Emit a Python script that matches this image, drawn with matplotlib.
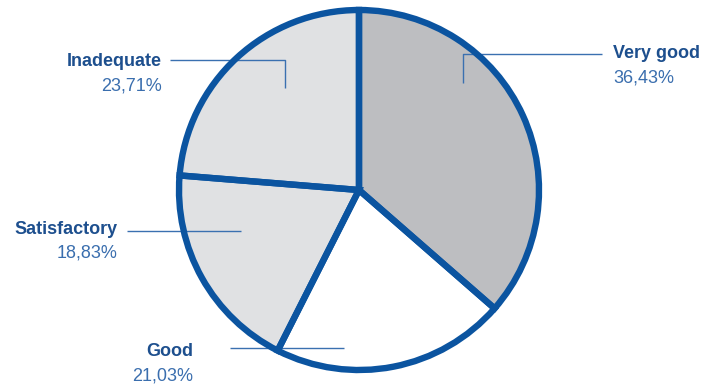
import matplotlib
matplotlib.use('Agg')
import matplotlib.pyplot as plt

# Rating shares (%), clockwise from 12 o'clock
labels = ['Very good', 'Good', 'Satisfactory', 'Inadequate']
shares = [36.43, 21.03, 18.83, 23.71]
fills = ['#bdbec1', '#ffffff', '#e0e1e3', '#e0e1e3']

BLUE = '#0b54a0'
NAME_COLOR = '#1d4f8e'
PCT_COLOR = '#3a6eae'
LINE_COLOR = '#3a70b0'

W, H = 705, 387
CENTER = (359, 190)
RADIUS = 180

# label text anchor (x, y, ha) and leader polyline, in pixel coords (y down)
label_pos = {
    'Very good':    (613, 54, 'left'),
    'Good':         (193, 352, 'right'),
    'Satisfactory': (118, 229, 'right'),
    'Inadequate':   (162, 62, 'right'),
}
leaders = {
    'Very good':    [(602, 54), (463, 54), (463, 83)],
    'Good':         [(230, 348), (344, 348)],
    'Satisfactory': [(127, 231), (241, 231)],
    'Inadequate':   [(170, 60), (285, 60), (285, 88)],
}


def fy(y):
    return H - y


fig = plt.figure(figsize=(W / 100, H / 100), dpi=100)
ax = fig.add_axes([0, 0, 1, 1])

# fills first, then leaders, then the blue outlines on top
ax.pie(shares, colors=fills, startangle=90, counterclock=False,
       center=(CENTER[0], fy(CENTER[1])), radius=RADIUS, frame=True,
       wedgeprops=dict(linewidth=0, zorder=1))

for name in labels:
    pts = leaders[name]
    ax.plot([p[0] for p in pts], [fy(p[1]) for p in pts],
            color=LINE_COLOR, lw=1.0, zorder=2, solid_capstyle='butt')

ax.pie(shares, colors=['none'] * 4, startangle=90, counterclock=False,
       center=(CENTER[0], fy(CENTER[1])), radius=RADIUS, frame=True,
       wedgeprops=dict(edgecolor=BLUE, linewidth=4.6, zorder=3))

ax.set_xlim(0, W)
ax.set_ylim(0, H)
ax.set_aspect('equal')
ax.axis('off')

for name, val in zip(labels, shares):
    x, y, ha = label_pos[name]
    ax.text(x, fy(y), name, ha=ha, va='center', fontsize=13,
            fontweight='bold', color=NAME_COLOR, family='Liberation Sans')
    ax.text(x, fy(y + 24), '{:.2f}%'.format(val).replace('.', ','),
            ha=ha, va='center', fontsize=13, color=PCT_COLOR,
            family='Liberation Sans')

fig.savefig('out.png', dpi=100, facecolor='white')
